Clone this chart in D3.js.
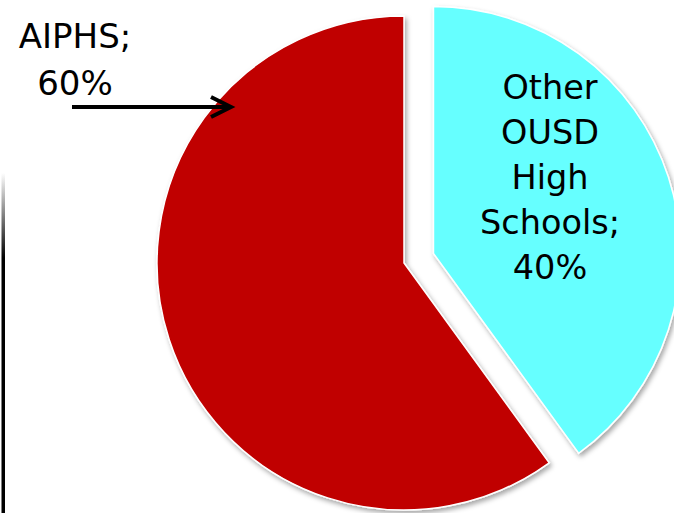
<!DOCTYPE html>
<html>
<head>
<meta charset="utf-8">
<script src="https://cdn.jsdelivr.net/npm/d3@7"></script>
<style>
body { margin:0; background:#fff; }
svg { display:block; }
</style>
</head>
<body>
<svg width="674" height="513"></svg>
<script>
// chart data
var categories = ["Other OUSD High Schools", "AIPHS"];
var values = [40, 60];
var colors = ["#66FFFF", "#C00000"];
var labelLines = [["Other", "OUSD", "High", "Schools;", "40%"], ["AIPHS;", "60%"]];

var svg = d3.select("svg"),
    cx = 404, cy = 263,
    radius = 247,
    explode = 31;

var defs = svg.append("defs");
var f = defs.append("filter").attr("id", "shadow")
    .attr("x", "-10%").attr("y", "-10%").attr("width", "130%").attr("height", "130%");
f.append("feDropShadow").attr("dx", 2).attr("dy", 3).attr("stdDeviation", 2.5)
    .attr("flood-color", "#000").attr("flood-opacity", 0.35);

var grad = defs.append("linearGradient").attr("id", "edge")
    .attr("x1", 0).attr("y1", 0).attr("x2", 0).attr("y2", 1);
grad.append("stop").attr("offset", "0%").attr("stop-color", "#000").attr("stop-opacity", 0);
grad.append("stop").attr("offset", "25%").attr("stop-color", "#000").attr("stop-opacity", 1);
grad.append("stop").attr("offset", "100%").attr("stop-color", "#000").attr("stop-opacity", 1);

// slide border on the left
svg.append("rect")
    .attr("x", 1.5).attr("y", 173)
    .attr("width", 3.5).attr("height", 340)
    .attr("fill", "url(#edge)");

var pie = d3.pie().sort(null).value(function(d){ return d; });
var arc = d3.arc().innerRadius(0).outerRadius(radius);
var arcs = pie(values);

var g = svg.append("g")
    .attr("transform", "translate(" + cx + "," + cy + ")");

g.selectAll("path")
    .data(arcs)
    .enter().append("path")
    .attr("d", arc)
    .attr("fill", function(d, i){ return colors[i]; })
    .attr("stroke", "#fff")
    .attr("stroke-width", 1.5)
    .attr("filter", "url(#shadow)")
    .attr("transform", function(d, i){
        if (i !== 0) return null;
        var a = (d.startAngle + d.endAngle) / 2;
        return "translate(" + (Math.sin(a) * explode) + "," + (-Math.cos(a) * explode) + ")";
    });

var font = "'DejaVu Sans', Verdana, sans-serif";

// label inside the cyan slice
var t1 = svg.append("text")
    .attr("x", 550).attr("y", 99)
    .attr("text-anchor", "middle")
    .attr("font-family", font)
    .attr("font-size", "33.5px")
    .attr("fill", "#000");
t1.selectAll("tspan")
    .data(labelLines[0])
    .enter().append("tspan")
    .attr("x", 550)
    .attr("dy", function(d, i){ return i === 0 ? 0 : 45; })
    .text(function(d){ return d; });

// label for AIPHS with arrow
var t2 = svg.append("text")
    .attr("x", 75).attr("y", 48)
    .attr("text-anchor", "middle")
    .attr("font-family", font)
    .attr("font-size", "34px")
    .attr("fill", "#000");
t2.selectAll("tspan")
    .data(labelLines[1])
    .enter().append("tspan")
    .attr("x", 75)
    .attr("dy", function(d, i){ return i === 0 ? 0 : 47; })
    .text(function(d){ return d; });

var tipX = 231, tipY = 107;
svg.append("line")
    .attr("x1", 72).attr("y1", tipY)
    .attr("x2", tipX - 2).attr("y2", tipY)
    .attr("stroke", "#000").attr("stroke-width", 4);
svg.append("path")
    .attr("d", "M" + (tipX - 20) + "," + (tipY - 10) + "L" + tipX + "," + tipY + "L" + (tipX - 20) + "," + (tipY + 10))
    .attr("fill", "none")
    .attr("stroke", "#000").attr("stroke-width", 4);
</script>
</body>
</html>
